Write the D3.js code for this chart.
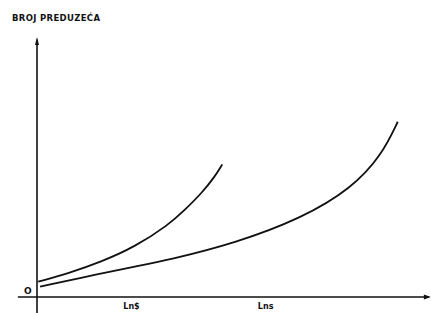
<!DOCTYPE html>
<html>
<head>
<meta charset="utf-8">
<script src="https://cdnjs.cloudflare.com/ajax/libs/d3/7.8.5/d3.min.js"></script>
<style>
  body { margin: 0; background: #fff; }
  text { font-family: "DejaVu Sans", sans-serif; font-weight: bold; fill: #111; }
</style>
</head>
<body>
<script>
width  = 431
height = 313

// curve values (arbitrary units 0..100)
var steepX = [0.3, 8.0, 16.6, 25.1, 33.7, 37.9, 42.2, 45.6, 47.5]
var steepY = [5.9, 9.1, 13.6, 19.3, 27.7, 33.5, 39.9, 46.3, 51.0]
var flatX  = [0.8, 16.6, 25.1, 33.6, 50.8, 67.9, 80.7, 88.4, 92.5]
var flatY  = [4.0, 9.1, 11.7, 14.2, 20.7, 30.3, 41.8, 54.6, 67.4]

var tickVals   = [24.1, 58.5]
var tickLabels = ["Ln$", "Lns"]

var x = d3.scaleLinear().domain([0, 100]).range([37, 427])
var y = d3.scaleLinear().domain([0, 100]).range([297, 37])

const svg = d3.select('body').append('svg')
  .attr('width', width)
  .attr('height', height)

// axes
svg.append("line")
    .attr("x1", x(-4.9)).attr("x2", x(100.5))
    .attr("y1", y(0)).attr("y2", y(0))
    .attr("stroke", "#111").attr("stroke-width", 1.6)
svg.append("path")
    .attr("d", `M${x(101)},${y(0)} l-7,-2.5 l0,5 z`)
    .attr("fill", "#111")

svg.append("line")
    .attr("x1", x(0)).attr("x2", x(0))
    .attr("y1", y(-6.2)).attr("y2", y(99))
    .attr("stroke", "#111").attr("stroke-width", 1.6)
svg.append("path")
    .attr("d", `M${x(0)},${y(100)} l-2,8 l4,0 z`)
    .attr("fill", "#111")

// tick labels under x axis
const xAxis = d3.axisBottom(x)
    .tickValues(tickVals)
    .tickSize(0)
    .tickPadding(6)
    .tickFormat((d, i) => tickLabels[i])
const gx = svg.append("g")
    .attr("transform", `translate(0,${y(0)})`)
    .call(xAxis)
gx.select(".domain").remove()
gx.selectAll("text").attr("font-size", 8).attr("font-family", "DejaVu Sans").attr("font-weight", "bold")

svg.append("text")
    .attr("x", x(0) - 13).attr("y", y(0) - 3)
    .attr("font-size", 9)
    .text("O")

svg.append("text")
    .attr("x", 12).attr("y", 21)
    .attr("font-size", 8.5)
    .attr("textLength", 88)
    .text("BROJ PREDUZEĆA")

// curves
var line = d3.line()
    .x(d => x(d[0]))
    .y(d => y(d[1]))
    .curve(d3.curveBasis)

svg.append("path")
    .datum(d3.zip(steepX, steepY))
    .attr("d", line)
    .attr("fill", "none")
    .attr("stroke", "#111")
    .attr("stroke-width", 1.8)

svg.append("path")
    .datum(d3.zip(flatX, flatY))
    .attr("d", line)
    .attr("fill", "none")
    .attr("stroke", "#111")
    .attr("stroke-width", 1.8)
</script>
</body>
</html>
